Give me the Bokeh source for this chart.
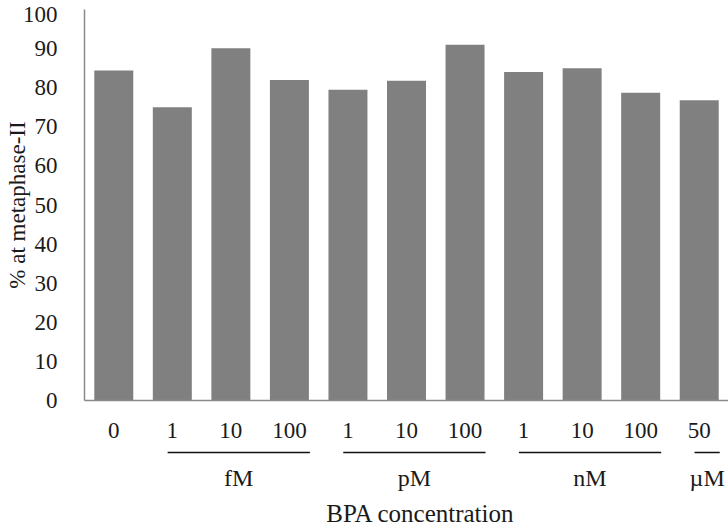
from bokeh.plotting import figure
from bokeh.layouts import column
from bokeh.models import Range1d, FixedTicker, LinearAxis, ColumnDataSource
from bokeh.embed import file_html
from bokeh.resources import INLINE
from bokeh.core.properties import value

# ---- data ----
categories = ["0", "1", "10", "100", "1", "10", "100", "1", "10", "100", "50"]
pct_metaphase_ii = [84.4, 75.0, 90.1, 82.0, 79.5, 81.8, 91.0, 84.0, 85.0, 78.7, 76.8]
groups = ["fM", "pM", "nM", "µM"]
group_first = [1, 4, 7, 10]
group_last = [3, 6, 9, 10]
y_tick_values = [0, 10, 20, 30, 40, 50, 60, 70, 80, 90, 100]
y_label = "% at metaphase-II"
x_label = "BPA concentration"

FONT = "Liberation Serif"
AXIS_GREY = "#8a8a8a"
BAR_GREY = "#808080"
TEXT = "#1a1a1a"

TOTAL_W, TOTAL_H = 728, 528
TOP_H = 446

xs = [i + 0.5 for i in range(len(categories))]
src = ColumnDataSource(dict(x=xs, top=pct_metaphase_ii))

top = figure(width=TOTAL_W, height=TOP_H, x_range=Range1d(0, len(categories)),
             y_range=Range1d(0, 100), output_backend="svg", toolbar_location=None,
             x_axis_type=None, y_axis_type=None,
             min_border_left=84, min_border_right=0, min_border_top=9,
             min_border_bottom=46)
top.outline_line_color = None

top.vbar(x="x", top="top", bottom=0, width=0.666, fill_color=BAR_GREY,
         line_color=None, source=src)

# y axis (the "100" label sits a little below its tick so it stays on the page)
label_pos = [float(v) for v in y_tick_values[:-1]] + [98.7]
yaxis = LinearAxis(ticker=FixedTicker(ticks=label_pos),
                   major_label_overrides={98.7: str(y_tick_values[-1])},
                   bounds=(0, 100))
yaxis.axis_line_color = AXIS_GREY
yaxis.axis_line_width = 1.5
yaxis.major_tick_line_color = None
yaxis.minor_tick_line_color = None
yaxis.major_label_text_font = FONT
yaxis.major_label_text_font_size = "23px"
yaxis.major_label_text_color = TEXT
yaxis.major_label_standoff = 21
yaxis.axis_label = y_label
yaxis.axis_label_text_font = FONT
yaxis.axis_label_text_font_style = "normal"
yaxis.axis_label_text_font_size = "23px"
yaxis.axis_label_text_color = TEXT
yaxis.axis_label_standoff = -10
top.add_layout(yaxis, "left")

xaxis = LinearAxis(ticker=FixedTicker(ticks=xs),
                   major_label_overrides={x: c for x, c in zip(xs, categories)})
xaxis.axis_line_color = AXIS_GREY
xaxis.axis_line_width = 1.5
xaxis.major_tick_line_color = None
xaxis.minor_tick_line_color = None
xaxis.major_label_text_font = FONT
xaxis.major_label_text_font_size = "23px"
xaxis.major_label_text_color = TEXT
xaxis.major_label_standoff = 16
top.add_layout(xaxis, "below")

# ---- lower panel: group brackets, group names, axis title ----
BOT_H = TOTAL_H - TOP_H
bot = figure(width=TOTAL_W, height=BOT_H, x_range=top.x_range,
             y_range=Range1d(BOT_H, 0),
             output_backend="svg", toolbar_location=None,
             x_axis_type=None, y_axis_type=None,
             min_border_left=84, min_border_right=0, min_border_top=0,
             min_border_bottom=0)
bot.outline_line_color = None

x0 = [f + 0.42 for f in group_first]
x1 = [l + 0.85 for l in group_last]
gsrc = ColumnDataSource(dict(x0=x0, x1=x1, xc=[(a + b) / 2 for a, b in zip(x0, x1)],
                             name=groups))
bot.segment(x0="x0", x1="x1", y0=6, y1=6, line_color="#111111", line_width=1.5,
            source=gsrc)
bot.text(x="xc", y=31, text="name", text_font=value(FONT), text_font_size="24px",
         text_align="center", text_baseline="middle", text_color=TEXT,
         source=gsrc)
bot.text(x=[5.74], y=[67], text=[x_label], text_font=value(FONT),
         text_font_size="25px", text_align="center", text_baseline="middle",
         text_color=TEXT)

layout = column(top, bot, spacing=0)
open("out.html", "w").write(file_html(layout, INLINE))
